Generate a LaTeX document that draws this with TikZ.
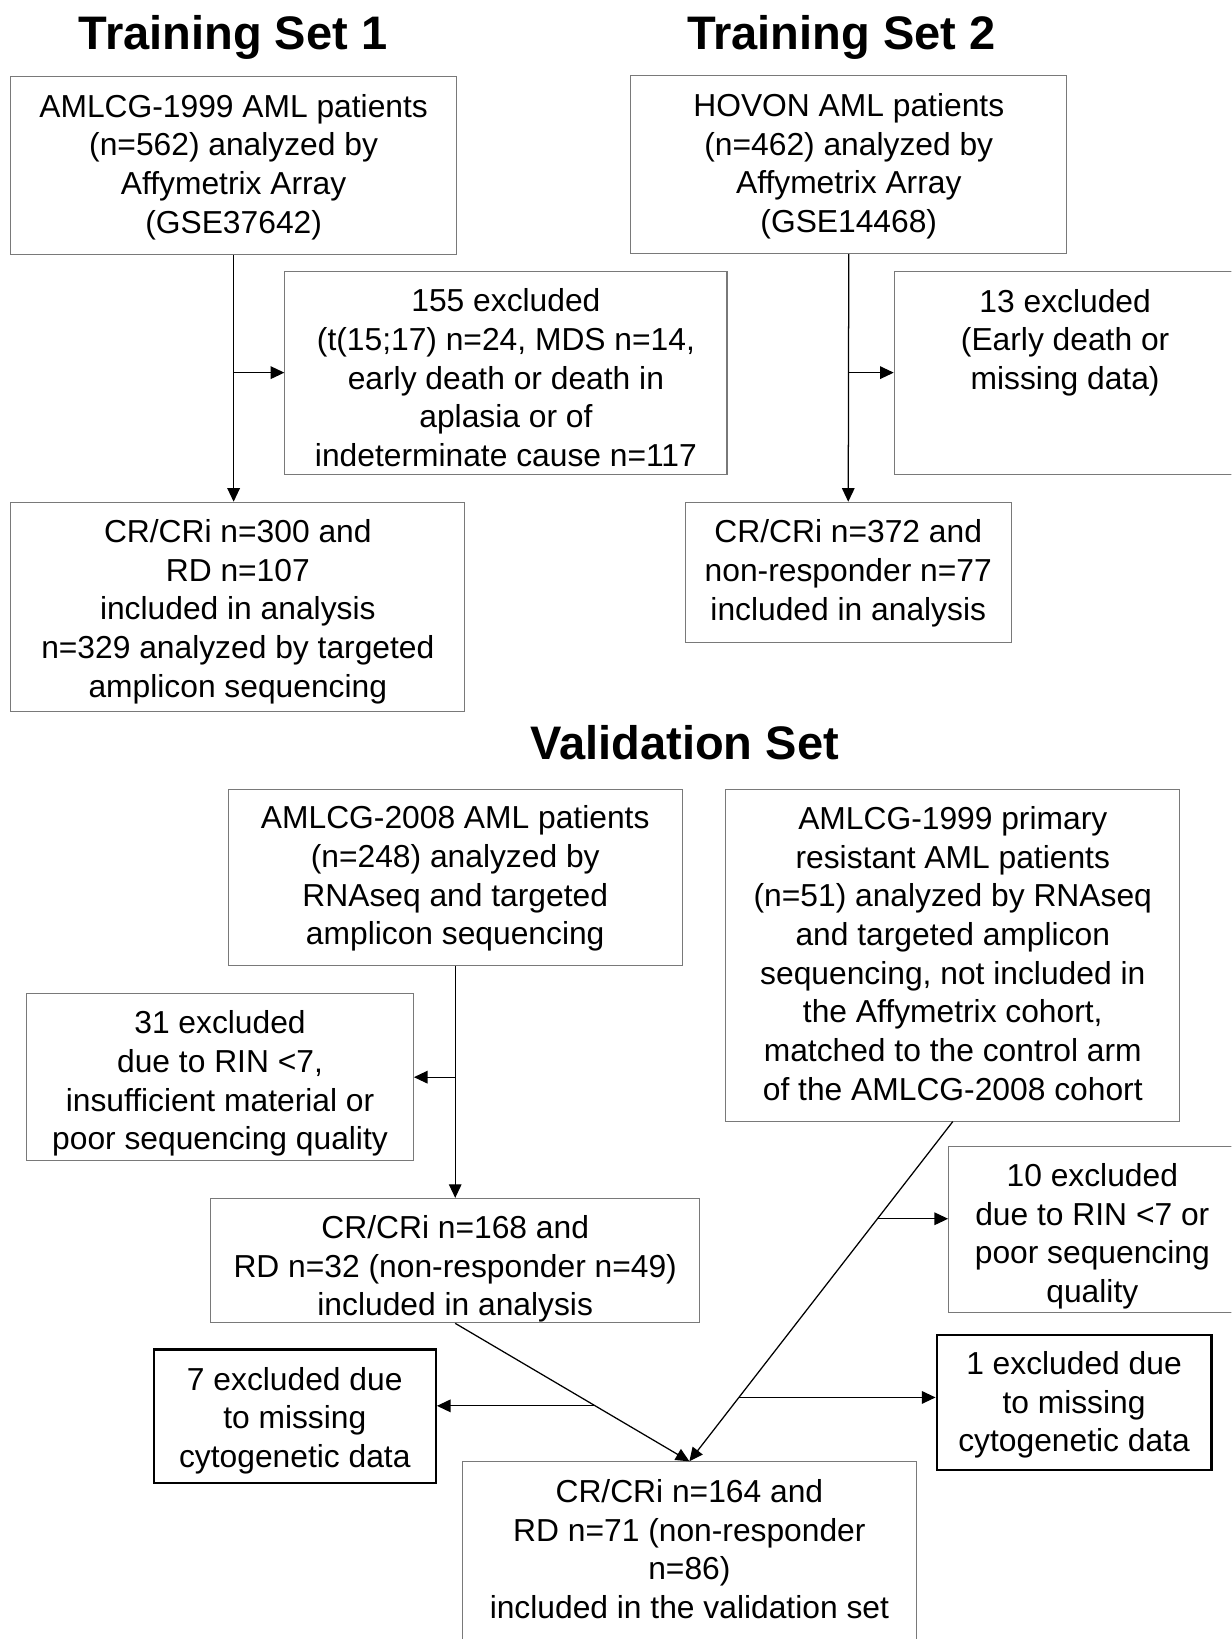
\documentclass[tikz,border=0pt]{standalone}
\usepackage{fontspec}
\setmainfont{Liberation Sans}
\usepackage{tikz}
\usetikzlibrary{arrows.meta,calc}
\newcommand{\pushdown}[1]{\rule{0pt}{\dimexpr 11.1pt+#1pt\relax}}

\begin{document}
\begin{tikzpicture}[x=0.5pt, y=-0.5pt,
		box/.style={draw=gray!95!black, line width=0.5pt, anchor=north west, align=center,
			inner xsep=2pt, inner ysep=0pt, font=\fontsize{15.2}{18.5}\selectfont},
		boldbox/.style={box, draw=black, line width=1pt},
		tup/.style={execute at end node={\rule[-#1pt]{0pt}{#1pt}}},
		head/.style={anchor=base, font=\fontsize{22.5}{26}\selectfont\bfseries},
		>={Triangle[length=6.5pt,width=6pt]}]
		\clip (0,0) rectangle (1178,1568);
		% titles
		\node[head] (ts1) at (223,47) {Training Set 1};
		\node[head] (ts2) at (805,47) {Training Set 2};
		\node[head] (vs) at (655,727) {Validation Set};
		% training set 1
		\node[box, minimum width=213pt, minimum height=85pt] (a1) at (10,73)
			{\pushdown{1}AMLCG-1999 AML patients\\ (n=562) analyzed by\\ Affymetrix Array\\ (GSE37642)};
		\node[box, minimum width=211.5pt, minimum height=97pt] (x1) at (272,259)
			{\pushdown{5}155 excluded\\ (t(15;17) n=24, MDS n=14,\\ early death or death in\\ aplasia or of\\ indeterminate cause n=117};
		\node[box, minimum width=217pt, minimum height=100pt] (c1) at (10,480)
			{\pushdown{4.5}CR/CRi n=300 and\\ RD n=107\\ included in analysis\\ n=329 analyzed by targeted\\ amplicon sequencing};
		% training set 2
		\node[box, minimum width=208.5pt, minimum height=85pt] (a2) at (603,72)
			{\pushdown{1.5}HOVON AML patients\\ (n=462) analyzed by\\ Affymetrix Array\\ (GSE14468)};
		\node[box, tup=32, minimum width=163.5pt, minimum height=97pt] (x2) at (855,259)
			{13 excluded\\ (Early death or\\ missing data)};
		\node[box, minimum width=156pt, minimum height=67pt] (c2) at (655,480)
			{\pushdown{1}CR/CRi n=372 and\\ non-responder n=77\\ included in analysis};
		% validation set
		\node[box, minimum width=217pt, minimum height=84pt] (v1) at (218,755)
			{\pushdown{1}AMLCG-2008 AML patients\\ (n=248) analyzed by\\ RNAseq and targeted\\ amplicon sequencing};
		\node[box, tup=2, minimum width=217pt, minimum height=158.5pt] (v2) at (694,755)
			{AMLCG-1999 primary\\ resistant AML patients\\ (n=51) analyzed by RNAseq\\ and targeted amplicon\\ sequencing, not included in\\ the Affymetrix cohort,\\ matched to the control arm\\ of the AMLCG-2008 cohort};
		\node[box, minimum width=185pt, minimum height=80pt] (x3) at (25,950)
			{\pushdown{6}31 excluded\\ due to RIN <7,\\ insufficient material or\\ poor sequencing quality};
		\node[box, minimum width=234pt, minimum height=59.5pt] (c3) at (201,1146)
			{\pushdown{8}CR/CRi n=168 and\\ RD n=32 (non-responder n=49)\\ included in analysis};
		\node[box, minimum width=137.5pt, minimum height=79.5pt] (x4) at (907,1096)
			{\pushdown{6.5}10 excluded\\ due to RIN <7 or\\ poor sequencing\\ quality};
		\node[boldbox, minimum width=135pt, minimum height=64pt] (x5) at (146,1290)
			{\pushdown{4}7 excluded due\\ to missing\\ cytogenetic data};
		\node[boldbox, minimum width=131.5pt, minimum height=64.5pt] (x6) at (895,1276)
			{\pushdown{2.5}1 excluded due\\ to missing\\ cytogenetic data};
		\node[box, tup=3.5, minimum width=217pt, minimum height=87pt] (c4) at (442,1398)
			{CR/CRi n=164 and\\ RD n=71 (non-responder\\ n=86)\\ included in the validation set};
		% connectors
		\coordinate (p1) at ($(v2.south)!0.286!(c4.north)$);
		\coordinate (p2) at ($(v2.south)!0.812!(c4.north)$);
		\coordinate (p3) at ($(c3.south)!0.598!(c4.north)$);
		\path[->, line width=0.6pt]
		(a1.south) edge (a1.south |- c1.north)
		(a1.south |- x1.west) edge (x1.west)
		(a2.south) edge (c2.north)
		(a2.south |- x2.west) edge (x2.west)
		(v1.south) edge (c3.north)
		(v1.south |- x3.east) edge (x3.east)
		(v2.south) edge (c4.north)
		(c3.south) edge (c4.north)
		(p1) edge (p1 -| x4.west)
		(p2) edge (p2 -| x6.west)
		(p3) edge (p3 -| x5.east)
		;
	\end{tikzpicture}
\end{document}
